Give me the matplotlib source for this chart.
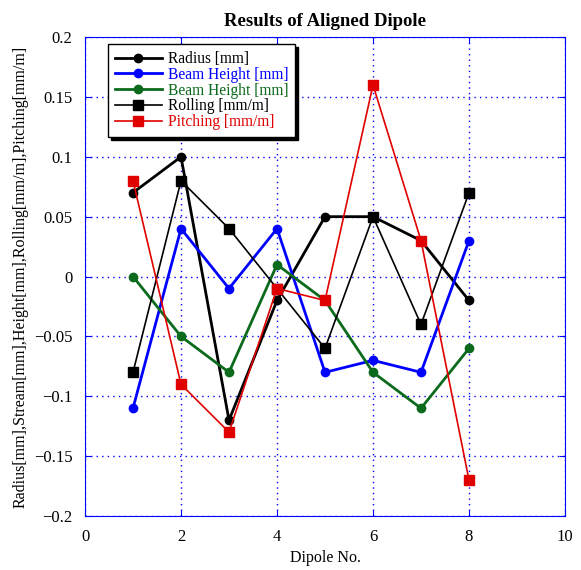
#Import libraries
import matplotlib
matplotlib.use("Agg")
import matplotlib.pyplot as plt

#Data
dipole = [1, 2, 3, 4, 5, 6, 7, 8]
radius = [0.07, 0.10, -0.12, -0.02, 0.05, 0.05, 0.03, -0.02]
beam_height_blue = [-0.11, 0.04, -0.01, 0.04, -0.08, -0.07, -0.08, 0.03]
beam_height_green = [0.0, -0.05, -0.08, 0.01, -0.02, -0.08, -0.11, -0.06]
rolling = [-0.08, 0.08, 0.04, -0.01, -0.06, 0.05, -0.04, 0.07]
pitching = [0.08, -0.09, -0.13, -0.01, -0.02, 0.16, 0.03, -0.17]

xticks = [0, 2, 4, 6, 8, 10]
yticks = [-0.2, -0.15, -0.1, -0.05, 0, 0.05, 0.1, 0.15, 0.2]
ytick_labels = ["\u22120.2", "\u22120.15", "\u22120.1", "\u22120.05", "0",
                "0.05", "0.1", "0.15", "0.2"]

plt.rcParams['font.family'] = ['Liberation Serif', 'DejaVu Serif']
plt.rcParams['font.size'] = 12

green = "#0b6a1c"
red = "#e00000"

#Plot
fig = plt.figure(figsize=(5.81, 5.70), dpi=100)
ax = fig.add_axes([0.1463, 0.0947, 0.8262, 0.8403])

ax.plot(dipole, radius, color="black", lw=2, marker="o", ms=6, label="Radius [mm]")
ax.plot(dipole, beam_height_blue, color="blue", lw=2, marker="o", ms=6, label="Beam Height [mm]")
ax.plot(dipole, beam_height_green, color=green, lw=2, marker="o", ms=6, label="Beam Height [mm]")
ax.plot(dipole, rolling, color="black", lw=1.2, marker="s", ms=7, label="Rolling [mm/m]")
ax.plot(dipole, pitching, color=red, lw=1.2, marker="s", ms=7, label="Pitching [mm/m]")

ax.set_xlim(0, 10)
ax.set_ylim(-0.2, 0.2)
ax.set_xticks(xticks)
ax.set_yticks(yticks)
ax.set_yticklabels(ytick_labels)
ax.grid(True, color="blue", linestyle=(0, (1, 3)), linewidth=1)
ax.tick_params(direction="in", colors="blue", labelcolor="black", top=True, right=True,
               length=4, pad=9)
for s in ax.spines.values():
    s.set_color("blue")

ax.set_title("Results of Aligned Dipole", fontweight="bold", fontsize=13.5, pad=8)
ax.set_xlabel("Dipole No.", fontsize=11.5, labelpad=4)
ax.set_ylabel("Radius[mm],Stream[mm],Height[mm],Rolling[mm/m],Pitching[mm/m]",
              fontsize=11.5, labelpad=4)

leg = ax.legend(loc="upper left", bbox_to_anchor=(0.048, 0.985), borderaxespad=0,
                fancybox=False, shadow={"color": "black", "alpha": 1}, edgecolor="black",
                framealpha=1, fontsize=11.2, borderpad=0.45, labelspacing=-0.02,
                handlelength=3.0, handletextpad=0.4)
for text, line in zip(leg.get_texts(), leg.get_lines()):
    text.set_color(line.get_color())

plt.savefig("out.png", dpi=100)
